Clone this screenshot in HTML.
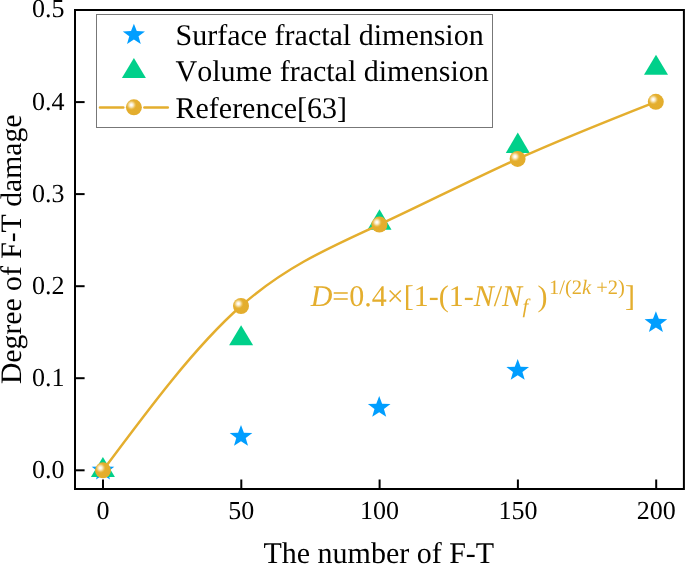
<!DOCTYPE html>
<html><head><meta charset="utf-8">
<style>
html,body{margin:0;padding:0;background:#fff;}
body{width:685px;height:564px;overflow:hidden;}
svg{display:block;will-change:transform;}
text{font-family:"Liberation Serif",serif;font-kerning:none;font-feature-settings:"kern" 0;text-rendering:geometricPrecision;}
</style></head>
<body>
<svg width="685" height="564" viewBox="0 0 685 564">
<defs>
<radialGradient id="sph" cx="0.34" cy="0.355" r="0.62" fx="0.34" fy="0.355">
<stop offset="0" stop-color="#ffffff"/>
<stop offset="0.1" stop-color="#fefaf0"/>
<stop offset="0.25" stop-color="#f5dea8"/>
<stop offset="0.38" stop-color="#eabf53"/>
<stop offset="0.5" stop-color="#e4ae2e"/>
<stop offset="1" stop-color="#e3ad2d"/>
</radialGradient>
<path id="star" d="M0.00,-11.40 L2.92,-3.84 L11.33,-3.52 L4.72,1.47 L7.00,9.22 L0.00,4.75 L-7.00,9.22 L-4.72,1.47 L-11.33,-3.52 L-2.92,-3.84 Z" fill="#009eff"/>
</defs>

<!-- tick labels y -->
<g font-size="26" fill="#000" text-anchor="end">
<text x="64.6" y="478.10">0.0</text>
<text x="64.6" y="386.04">0.1</text>
<text x="64.6" y="293.98">0.2</text>
<text x="64.6" y="201.92">0.3</text>
<text x="64.6" y="109.86">0.4</text>
<text x="64.6" y="17.35">0.5</text>
</g>
<!-- tick labels x -->
<g font-size="26" fill="#000" text-anchor="middle">
<text x="103" y="518.6">0</text>
<text x="241.3" y="518.6">50</text>
<text x="379.6" y="518.6">100</text>
<text x="517.9" y="518.6">150</text>
<text x="656.2" y="518.6">200</text>
</g>
<!-- axis labels -->
<text x="378.8" y="563" font-size="30" text-anchor="middle">The number of F-T</text>
<text transform="translate(20.8,249.3) rotate(-90)" font-size="29.7" text-anchor="middle">Degree of F-T damage</text>

<!-- ticks -->
<g stroke="#000" stroke-width="2">
<line x1="75" y1="470.3" x2="84.6" y2="470.3"/>
<line x1="75" y1="378.2" x2="84.6" y2="378.2"/>
<line x1="75" y1="286.2" x2="84.6" y2="286.2"/>
<line x1="75" y1="194.1" x2="84.6" y2="194.1"/>
<line x1="75" y1="102.1" x2="84.6" y2="102.1"/>
<line x1="103" y1="488" x2="103" y2="479.5"/>
<line x1="241.3" y1="488" x2="241.3" y2="479.5"/>
<line x1="379.6" y1="488" x2="379.6" y2="479.5"/>
<line x1="517.9" y1="488" x2="517.9" y2="479.5"/>
<line x1="656.2" y1="488" x2="656.2" y2="479.5"/>
</g>

<!-- legend -->
<rect x="96.5" y="14.5" width="396" height="113" fill="none" stroke="#777" stroke-width="1"/>
<use href="#star" transform="translate(133.9 34.85) scale(0.98)"/>
<path d="M121.9,78 L145.9,78 L133.9,57.9 Z" fill="#00d08a"/>
<line x1="100" y1="107.4" x2="123.3" y2="107.4" stroke="#e4ae2e" stroke-width="2.5" stroke-linecap="round"/>
<line x1="144.4" y1="107.4" x2="167.8" y2="107.4" stroke="#e4ae2e" stroke-width="2.5" stroke-linecap="round"/>
<circle cx="133.9" cy="107.3" r="8" fill="url(#sph)"/>
<g font-size="30" fill="#000">
<text x="175.5" y="45.3">Surface fractal dimension</text>
<text x="175.5" y="81">Volume fractal dimension</text>
<text x="175.5" y="117.5">Reference[63]</text>
</g>

<!-- stars -->
<use href="#star" x="103" y="470.3"/>
<use href="#star" x="241" y="436.5"/>
<use href="#star" x="379.2" y="407.5"/>
<use href="#star" x="517.7" y="370.5"/>
<use href="#star" x="655.9" y="322.7"/>
<!-- triangles (centroid at data) -->
<g fill="#00d08a">
<path d="M90.9,476.9 L114.9,476.9 L102.9,456.9 Z"/>
<path d="M229.1,345.3 L253.1,345.3 L241.1,325.2 Z"/>
<path d="M367.5,229.7 L391.5,229.7 L379.5,209.2 Z"/>
<path d="M505.8,152.9 L529.8,152.9 L517.8,132.5 Z"/>
<path d="M644,74.8 L668,74.8 L656,54.7 Z"/>
</g>
<!-- curve -->
<path d="M103.00,470.30 C149.00,408.44 195.00,346.58 241.00,306.00 C287.13,265.30 333.27,246.01 379.40,224.60 C425.47,203.22 471.53,179.72 517.60,158.90 C563.67,138.08 609.73,119.94 655.80,101.80" fill="none" stroke="#e4ae2e" stroke-width="2.5"/>
<!-- spheres -->
<g>
<circle cx="103" cy="470.3" r="8" fill="url(#sph)"/>
<circle cx="241" cy="306" r="8" fill="url(#sph)"/>
<circle cx="379.4" cy="224.6" r="8" fill="url(#sph)"/>
<circle cx="517.6" cy="158.9" r="8" fill="url(#sph)"/>
<circle cx="655.8" cy="101.8" r="8" fill="url(#sph)"/>
</g>

<!-- formula -->
<g fill="#e4ae2e">
<text x="310.7" y="305.5" font-size="30"><tspan font-style="italic">D</tspan>=0.4×[1-(1-<tspan font-style="italic">N</tspan>/<tspan font-style="italic">N</tspan></text>
<text x="522.6" y="313" font-size="20.5" font-style="italic">f</text>
<text x="537.6" y="305.5" font-size="30">)</text>
<text x="549" y="293.5" font-size="20.5">1/(2<tspan font-style="italic">k</tspan> +2)</text>
<text x="624.9" y="305.5" font-size="30">]</text>
</g>

<!-- frame -->
<rect x="75" y="10" width="608.9" height="479" fill="none" stroke="#000" stroke-width="2"/>
</svg>
</body></html>
